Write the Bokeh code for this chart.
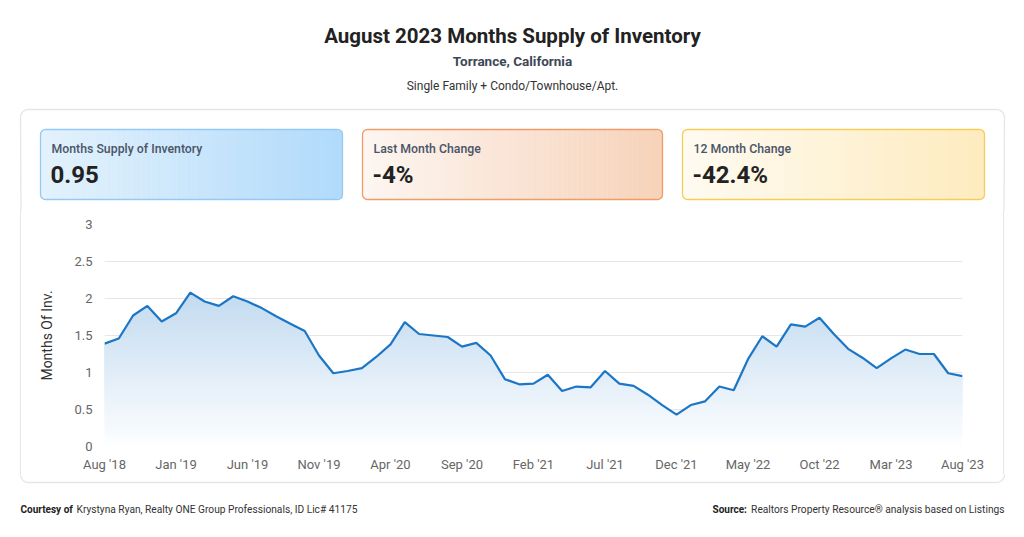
import numpy as np
from bokeh.plotting import figure
from bokeh.layouts import column, row
from bokeh.models import Range1d, FixedTicker, NumeralTickFormatter, Div
from bokeh.embed import file_html
from bokeh.resources import INLINE
from bokeh.core.properties import value

# ---------------- data ----------------
values = [1.39, 1.46, 1.77, 1.90, 1.69, 1.80, 2.08, 1.96, 1.90, 2.03,
          1.96, 1.87, 1.76, 1.66, 1.56, 1.23, 0.99, 1.02, 1.06, 1.21,
          1.38, 1.68, 1.52, 1.50, 1.48, 1.35, 1.40, 1.23, 0.91, 0.84,
          0.85, 0.97, 0.75, 0.81, 0.80, 1.02, 0.85, 0.82, 0.70, 0.56,
          0.43, 0.56, 0.61, 0.81, 0.76, 1.18, 1.49, 1.35, 1.65, 1.62,
          1.74, 1.52, 1.32, 1.20, 1.06, 1.19, 1.31, 1.25, 1.25, 0.99,
          0.95]
tick_positions = [0, 5, 10, 15, 20, 25, 30, 35, 40, 45, 50, 55, 60]
tick_labels = ["Aug '18", "Jan '19", "Jun '19", "Nov '19", "Apr '20", "Sep '20",
               "Feb '21", "Jul '21", "Dec '21", "May '22", "Oct '22", "Mar '23", "Aug '23"]
y_ticks = [0, 0.5, 1, 1.5, 2, 2.5, 3]
kpi_titles = ["Months Supply of Inventory", "Last Month Change", "12 Month Change"]
kpi_values = ["0.95", "-4%", "-42.4%"]

FONT = "Roboto"
FONT_MED = "'Roboto Medium', Roboto"
W = 1008
CARD = "#e3e6ea"


def canvas_fig(w, h):
    f = figure(width=w, height=h, x_range=Range1d(0, w), y_range=Range1d(h, 0),
               output_backend="svg", toolbar_location=None, title=None,
               x_axis_location=None, y_axis_location=None,
               min_border=0, outline_line_color=None,
               background_fill_color="white", border_fill_color="white")
    f.xgrid.grid_line_color = None
    f.ygrid.grid_line_color = None
    return f


def arc(cx, cy, r, a0, a1, n=14):
    a = np.radians(np.linspace(a0, a1, n))
    return list(cx + r * np.cos(a)), list(cy + r * np.sin(a))


def txt(f, x, y, s, size, color, style="normal", align="left", font=FONT):
    f.text(x=[x], y=[y], text=[s], text_font=value(font), text_font_size=size,
           text_color=color, text_font_style=style, text_align=align, text_baseline="middle")


# ---------------- header ----------------
HH = 210
hdr = canvas_fig(W, HH)
txt(hdr, 512, 35, "August 2023 Months Supply of Inventory", "20.5px", "#222222", "bold", "center")
txt(hdr, 512, 60, "Torrance, California", "13.5px", "#3d4655", "bold", "center")
txt(hdr, 512, 85, "Single Family + Condo/Townhouse/Apt.", "12px", "#333333", "normal", "center")

# card top
xs1, ys1 = arc(28, 117, 8, 180, 270)
xs2, ys2 = arc(996, 117, 8, 270, 360)
hdr.line([20.5] + xs1 + xs2 + [1003.5], [HH + 2] + ys1 + ys2 + [HH + 2],
         line_color=CARD, line_width=1.3)

boxes = [(40, 342, (227, 242, 253), (178, 219, 251), "#95c9f5"),
         (362, 662, (253, 246, 241), (247, 211, 186), "#ef9d68"),
         (682, 984, (255, 251, 241), (254, 236, 192), "#f7cd58")]
T, B, R0 = 129, 199, 5
n = 60
for (L, R, c0, c1, border), ttl, val in zip(boxes, kpi_titles, kpi_values):
    c0 = np.array(c0, float); c1 = np.array(c1, float)
    edges = np.linspace(L + 0.5, R - 0.5, n + 1)
    lefts, rights, tops, bots, cols = [], [], [], [], []
    for i in range(n):
        xc = 0.5 * (edges[i] + edges[i + 1])
        d = min(xc - L, R - xc)
        ins = R0 - np.sqrt(max(R0 ** 2 - (R0 - d) ** 2, 0)) if d < R0 else 0.0
        t = i / (n - 1)
        c = (c0 + (c1 - c0) * t).astype(int)
        lefts.append(edges[i]); rights.append(edges[i + 1] + 0.4)
        tops.append(T + 0.5 + ins); bots.append(B - 0.5 - ins)
        cols.append("#%02x%02x%02x" % tuple(c))
    hdr.quad(left=lefts, right=rights, top=tops, bottom=bots, fill_color=cols,
             line_color=None)
    hdr.quad(left=[L], right=[R], top=[T], bottom=[B], fill_alpha=0,
             line_color=border, line_width=1.3, border_radius=R0)
    txt(hdr, L + 11, 148, ttl, "12.3px", "#4a5568", "normal", font=FONT_MED)
    txt(hdr, L + 10, 174, val, "24px", "#222222", "bold")

# ---------------- middle row ----------------
MH = 264  # page y 210..474
left_strip = Div(text="", width=28, height=MH, margin=0,
                 styles={"background": "linear-gradient(to right, transparent 20px, "
                                       + CARD + " 20px, " + CARD + " 21.3px, transparent 21.3px)"})
right_strip = Div(text="", width=18, height=MH, margin=0,
                  styles={"background": "linear-gradient(to right, transparent 13px, "
                                        + CARD + " 13px, " + CARD + " 14.3px, transparent 14.3px)"})

x = np.arange(len(values))
vals = np.array(values)

p = figure(width=962, height=MH, x_range=Range1d(0, 60), y_range=Range1d(0, 3),
           output_backend="svg", toolbar_location=None, title=None,
           min_border_left=76, min_border_right=28, min_border_top=14, min_border_bottom=28,
           background_fill_color="white", border_fill_color="white", outline_line_color=None)

top_rgb = np.array([193, 218, 240])
bot_rgb = np.array([253, 254, 255])
levels = np.arange(0, 2.15, 0.05)
for lo in levels:
    t = min(lo / 2.1, 1.0)
    c = (bot_rgb + (top_rgb - bot_rgb) * t).astype(int)
    p.varea(x=x, y1=np.minimum(vals, lo), y2=vals, fill_color="#%02x%02x%02x" % tuple(c))

p.line(x, vals, line_color="#1c76c6", line_width=2.2)

p.yaxis.ticker = FixedTicker(ticks=y_ticks)
p.yaxis.formatter = NumeralTickFormatter(format="0.[0]")
p.yaxis.axis_label = "Months Of Inv."
p.yaxis.axis_label_text_font = FONT
p.yaxis.axis_label_text_font_size = "14px"
p.yaxis.axis_label_text_font_style = "normal"
p.yaxis.axis_label_text_color = "#333333"
p.yaxis.axis_label_standoff = 16
p.xaxis.ticker = FixedTicker(ticks=tick_positions)
p.xaxis.major_label_overrides = dict(zip(tick_positions, tick_labels))
for ax in (p.xaxis, p.yaxis):
    ax.axis_line_color = None
    ax.major_tick_line_color = None
    ax.minor_tick_line_color = None
    ax.major_label_text_font = FONT
    ax.major_label_text_font_size = "13px"
    ax.major_label_text_color = "#666666"
p.xaxis.major_label_standoff = 4
p.yaxis.major_label_standoff = 6
p.xgrid.grid_line_color = None
p.ygrid.grid_line_color = "#e6e6e6"

mid = row(left_strip, p, right_strip, spacing=0)

# ---------------- footer ----------------
FH = 47  # page y 474..521
ftr = canvas_fig(W, FH)
xs1, ys1 = arc(28, 0, 8, 180, 90)
xs2, ys2 = arc(996, 0, 8, 90, 0)
ftr.line([20.5] + xs1 + xs2 + [1003.5], [-2] + ys1 + ys2 + [-2], line_color=CARD, line_width=1.3)
txt(ftr, 20, 35, "Courtesy of", "10px", "#222222", "bold")
txt(ftr, 76, 35, "Krystyna Ryan, Realty ONE Group Professionals, ID Lic# 41175", "10.2px", "#333333")
txt(ftr, 712, 35, "Source:", "10px", "#222222", "bold")
txt(ftr, 1004, 35, "Realtors Property Resource\u00ae analysis based on Listings", "10.2px", "#333333", "normal", "right")

layout = column(hdr, mid, ftr, spacing=0)
open("out.html", "w").write(file_html(layout, INLINE))
